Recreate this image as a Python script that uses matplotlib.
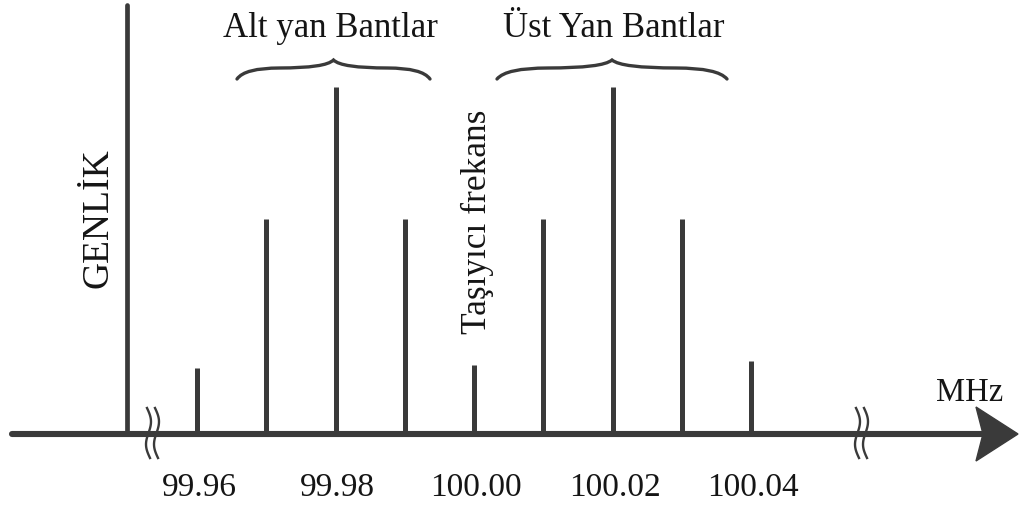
import numpy as np
import matplotlib
matplotlib.use("Agg")
from matplotlib import pyplot as plt
from matplotlib.path import Path
from matplotlib.patches import PathPatch, Polygon

# spectrum data (MHz, relative amplitude)
freqs = [99.96, 99.97, 99.98, 99.99, 100.00, 100.01, 100.02, 100.03, 100.04]
amps = [0.19, 0.62, 1.00, 0.62, 0.20, 0.62, 1.00, 0.62, 0.21]
tick_freqs = [99.96, 99.98, 100.00, 100.02, 100.04]
tick_labels = ['99.96', '99.98', '100.00', '100.02', '100.04']
carrier = 100.00

W, H = 1019, 506
line_color = '#3a3a3a'
text_color = '#151515'
font = 'Liberation Serif'

# pixel <-> data helpers for the layout (figure is one big axes)
dx = 0.08 / 554.0          # MHz per pixel
x_left = 99.96 - 197 * dx
base_px, unit_px = 435, 347.0


def px2x(p):
    return x_left + p * dx


def py2y(p):
    return (base_px - p) / unit_px


fig = plt.figure(figsize=(W / 100, H / 100), dpi=100)
fig.patch.set_facecolor('white')
ax = fig.add_axes([0, 0, 1, 1])
ax.set_xlim(px2x(0), px2x(W))
ax.set_ylim(py2y(H), py2y(0))
ax.axis('off')

# stems
ax.vlines(freqs, 0, amps, colors=line_color, lw=3.6, capstyle='butt')

# amplitude axis
ax.plot([px2x(127)] * 2, [0, py2y(6)], color=line_color, lw=3.4,
        solid_capstyle='round')

# frequency axis with arrow head
ax.plot([px2x(12), px2x(985)], [0, 0], color=line_color, lw=4.4,
        solid_capstyle='round')
head = Polygon([(px2x(976), py2y(408)), (px2x(1018), 0),
                (px2x(976), py2y(462)), (px2x(983), 0)],
               closed=True, facecolor=line_color, edgecolor=line_color, lw=1)
ax.add_patch(head)

# axis break marks
t = np.linspace(0, 1, 60)
for xc in [151, 860]:
    for off in [-4, 4]:
        xs = px2x(xc + off + 3.2 * np.sin(2 * np.pi * t) + 3 * t)
        ys = py2y(409 + 50 * t)
        ax.plot(xs, ys, color=line_color, lw=1.7)


# curly braces over the side bands
def brace(x0, x1, y_end, y_flat, y_peak):
    xc = (x0 + x1) / 2
    w = x1 - x0
    pts = [(x0, y_end),
           (x0 + 0.04 * w, y_flat), (x0 + 0.22 * w, y_flat),
           (xc - 0.04 * w, y_flat), (xc, y_peak),
           (xc + 0.04 * w, y_flat), (x1 - 0.22 * w, y_flat),
           (x1 - 0.04 * w, y_flat), (x1, y_end)]
    pts = [(px2x(a), py2y(b)) for a, b in pts]
    codes = [Path.MOVETO] + [Path.CURVE3] * 8
    ax.add_patch(PathPatch(Path(pts, codes), fill=False, edgecolor=line_color,
                           lw=2.4, capstyle='round'))


brace(237, 430, 80, 69, 61)
brace(497, 727, 80, 69, 61)

# texts
ax.text(px2x(330), py2y(28), 'Alt yan Bantlar', family=font, fontsize=25,
        color=text_color, ha='center', va='center')
ax.text(px2x(614), py2y(28), 'Üst Yan Bantlar', family=font, fontsize=25,
        color=text_color, ha='center', va='center')
ax.text(px2x(98), py2y(218), 'GENLİK', family=font, fontsize=27,
        color=text_color, ha='center', va='center', rotation=90)
ax.text(carrier + 3 * dx, py2y(222), 'Taşıyıcı frekans', family=font,
        fontsize=25.5, color=text_color, ha='center', va='center', rotation=90)
ax.text(px2x(970), py2y(393), 'MHz', family=font, fontsize=23.5,
        color=text_color, ha='center', va='center')

for f, lab in zip(tick_freqs, tick_labels):
    ax.text(f + 2 * dx, py2y(488), lab, family=font, fontsize=24,
            color=text_color, ha='center', va='center')

fig.savefig('out.png', dpi=100, facecolor='white')
